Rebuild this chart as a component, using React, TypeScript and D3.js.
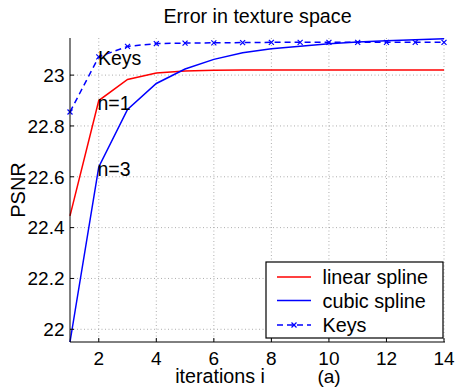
import React from "react";
import * as d3 from "d3";

const iterations = [1, 2, 3, 4, 5, 6, 7, 8, 9, 10, 11, 12, 13, 14];
const linearSpline = [22.446, 22.9, 22.983, 23.008, 23.016, 23.019, 23.02, 23.02, 23.02, 23.02, 23.02, 23.02, 23.02, 23.02];
const cubicSpline = [21.95, 22.639, 22.865, 22.967, 23.024, 23.062, 23.088, 23.104, 23.114, 23.123, 23.13, 23.135, 23.139, 23.143];
const keys = [22.855, 23.072, 23.113, 23.124, 23.126, 23.127, 23.128, 23.129, 23.129, 23.129, 23.129, 23.129, 23.129, 23.129];
const xTicks = [2, 4, 6, 8, 10, 12, 14];
const yTicks = [22, 22.2, 22.4, 22.6, 22.8, 23];
const legendLabels = ["linear spline", "cubic spline", "Keys"];

const W = 458, H = 387;
const L = 70, R = 444, T = 38, B = 342;
const FONT = "Liberation Sans, Arial, Helvetica, sans-serif";

export default function App() {
  const x = d3.scaleLinear().domain([1, 14]).range([L, R]);
  const y = d3.scaleLinear().domain([21.95, 23.146]).range([B, T]);
  const line = d3.line<number>().x((_, i) => x(iterations[i])).y((d) => y(d));

  const legendX = 266, legendY = 262, legendW = 177, legendH = 76;
  const rows = [
    { label: legendLabels[0], color: "#ff0000", dash: "" },
    { label: legendLabels[1], color: "#0000ff", dash: "" },
    { label: legendLabels[2], color: "#0000ff", dash: "6,4" },
  ];
  const rowYs = [277, 300.5, 325];

  const marker = (cx: number, cy: number, k: string) => (
    <g key={k} stroke="#0000ff" strokeWidth={1.2}>
      <line x1={cx - 2.5} y1={cy - 2.5} x2={cx + 2.5} y2={cy + 2.5} />
      <line x1={cx - 2.5} y1={cy + 2.5} x2={cx + 2.5} y2={cy - 2.5} />
    </g>
  );

  return (
    <svg width={W} height={H} style={{ position: "absolute", left: 0, top: 0, background: "#fff" }} fontFamily={FONT}>
      <rect x={0} y={0} width={W} height={H} fill="#fff" />
      {/* grid */}
      <g stroke="#999" strokeWidth={0.8} strokeDasharray="1,2.5">
        {xTicks.map((t) => (
          <line key={"gx" + t} x1={x(t)} x2={x(t)} y1={T} y2={B} />
        ))}
        {yTicks.map((t) => (
          <line key={"gy" + t} x1={L} x2={R} y1={y(t)} y2={y(t)} />
        ))}
      </g>
      {/* lines */}
      <path d={line(linearSpline) || ""} fill="none" stroke="#ff0000" strokeWidth={1.5} />
      <path d={line(cubicSpline) || ""} fill="none" stroke="#0000ff" strokeWidth={1.5} />
      <path d={line(keys) || ""} fill="none" stroke="#0000ff" strokeWidth={1.5} strokeDasharray="6,4" />
      {keys.map((v, i) => marker(x(iterations[i]), y(v), "m" + i))}
      {/* axes */}
      <line x1={L} x2={L} y1={T} y2={B} stroke="#000" strokeWidth={1} />
      <line x1={L} x2={R + 1} y1={B} y2={B} stroke="#000" strokeWidth={1} />
      {xTicks.map((t) => (
        <g key={"xt" + t}>
          <line x1={x(t)} x2={x(t)} y1={B} y2={B - 4} stroke="#000" />
          <text x={x(t)} y={364.5} fontSize={19} textAnchor="middle" fill="#000">{t}</text>
        </g>
      ))}
      {yTicks.map((t) => (
        <g key={"yt" + t}>
          <line x1={L} x2={L + 4} y1={y(t)} y2={y(t)} stroke="#000" />
          <text x={L - 5.5} y={y(t) + 6.8} fontSize={19} textAnchor="end" fill="#000">{d3.format("")(t)}</text>
        </g>
      ))}
      {/* annotations */}
      <text x={98} y={64.5} fontSize={19.5} fill="#000">Keys</text>
      <text x={97.5} y={110} fontSize={19.5} fill="#000">n=1</text>
      <text x={97.5} y={175.5} fontSize={19.5} fill="#000">n=3</text>
      {/* title & labels */}
      <text x={257.5} y={22.5} fontSize={19.7} textAnchor="middle" fill="#000">Error in texture space</text>
      <text transform="translate(25,190) rotate(-90)" fontSize={20} textAnchor="middle" fill="#000">PSNR</text>
      <text x={220} y={383} fontSize={19.7} textAnchor="middle" fill="#000">iterations i</text>
      <text x={329} y={383} fontSize={19} textAnchor="middle" fill="#000">(a)</text>
      {/* legend */}
      <rect x={legendX} y={legendY} width={legendW} height={legendH} fill="#fff" stroke="#000" strokeWidth={1.2} />
      {rows.map((r, i) => (
        <g key={"lg" + i}>
          <line x1={277} x2={311} y1={rowYs[i]} y2={rowYs[i]} stroke={r.color} strokeWidth={1.5} strokeDasharray={r.dash || undefined} />
          {i === 2 && marker(294, rowYs[i], "lm")}
          <text x={322.5} y={rowYs[i] + 7} fontSize={19.8} fill="#000">{r.label}</text>
        </g>
      ))}
    </svg>
  );
}
